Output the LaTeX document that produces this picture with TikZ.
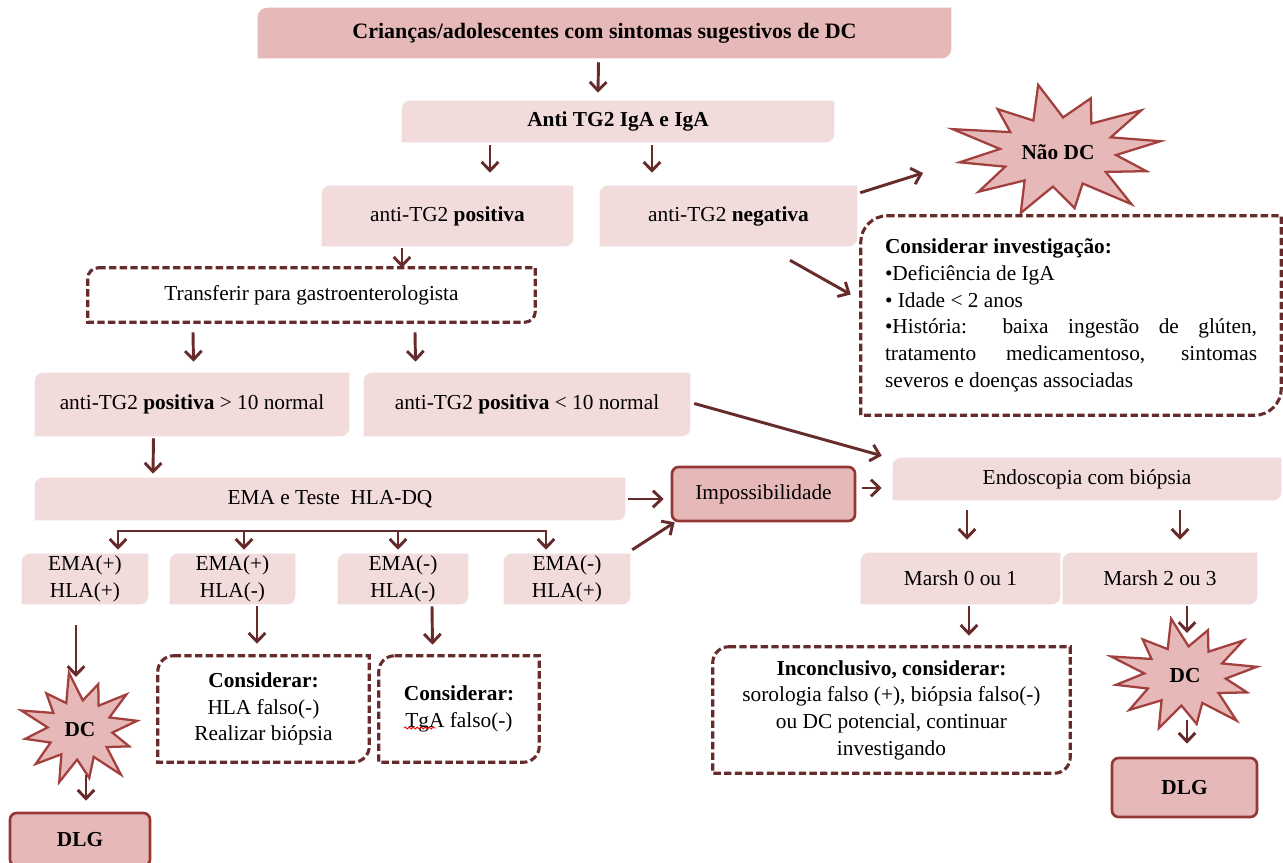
\documentclass[tikz,border=0pt]{standalone}
\usepackage{fontspec}
\setmainfont{Liberation Serif}
\usetikzlibrary{arrows.meta,backgrounds,calc,decorations.pathmorphing}
\definecolor{darkfill}{HTML}{E6B8B7}
\definecolor{lightfill}{HTML}{F2DCDB}
\definecolor{arrcol}{HTML}{672B2B}
\definecolor{starcol}{HTML}{A2403E}
\definecolor{boxcol}{HTML}{953735}
% node from pixel box: name, x1, y1, x2, y2, style, text
\newcommand\bx[7]{\node[nd,#6, minimum width={(#4-#2)*0.75pt}, minimum height={(#5-#3)*0.75pt}] (#1) at ({(#2+#4)/2},{(#3+#5)/2}) {#7};}
% shape with rounded top-left and bottom-right corners
\newcommand\cornerbox[3]{\path[#3] ([xshift=#2]#1.north west) -- (#1.north east) -- ([yshift=#2]#1.south east) arc[start angle=0,end angle=-90,radius=#2] -- (#1.south west) -- ([yshift=-#2]#1.north west) arc[start angle=180,end angle=90,radius=#2] -- cycle;}
% explosion star round a node: name, rx, ry, style
\newcommand\burst[4]{\path[#4] ($(#1)+({#2*cos(10)},{-#3*sin(10)})$) \foreach \k in {1,...,23}{ -- ($(#1)+({(mod(\k,2)==0 ? (1+0.1*sin(\k*77)) : 0.56)*#2*cos(10+\k*15)},{-(mod(\k,2)==0 ? (1+0.1*sin(\k*77)) : 0.56)*#3*sin(10+\k*15)})$)} -- cycle;}
\tikzset{
  nd/.style={inner sep=0pt, align=center, text=black},
  arr/.style={draw=arrcol, line width=2.2pt, -{Straight Barb[length=6.5pt,width=12.5pt]}},
  plain/.style={draw=arrcol, line width=2.2pt},
  dbox/.style={draw=arrcol, line width=2.3pt, dash pattern=on 5.5pt off 2.5pt},
  lightshape/.style={fill=lightfill},
  darkshape/.style={fill=darkfill},
  starshape/.style={fill=darkfill, draw=starcol, line width=1.7pt, line join=miter},
  solidbox/.style={fill=darkfill, draw=boxcol, line width=2pt, rounded corners=5pt},
  wavy/.style={draw=red, line width=0.6pt, decorate, decoration={snake, segment length=3pt, amplitude=0.8pt}},
}
\begin{document}
\begin{tikzpicture}[x=0.75pt, y=-0.75pt, font=\fontsize{16}{20}\selectfont]
\useasboundingbox (0,0) rectangle (1283,863);
% ---------- nodes ----------
\bx{top}{258}{8}{951}{58}{font=\fontsize{16.5}{20}\selectfont\bfseries}{Crianças/adolescentes com sintomas sugestivos de DC}
\bx{anti}{402}{101}{834}{142}{font=\fontsize{16}{20}\selectfont\bfseries}{Anti TG2 IgA e IgA}
\bx{pos}{322}{186}{573}{246}{}{anti-TG2 \textbf{positiva}}
\bx{neg}{600}{186}{857}{246}{}{anti-TG2 \textbf{negativa}}
\node[nd, font=\fontsize{16}{20}\selectfont\bfseries] (nao) at (1058,152) {Não DC};
\bx{inv}{861}{216}{1281}{415}{text width=279pt, align=justify}{\textbf{Considerar investigação:}\\ •Deficiência de IgA\\ • Idade < 2 anos\\ •História: baixa ingestão de glúten,\linebreak tratamento medicamentoso, sintomas\linebreak severos e doenças associadas}
\bx{trans}{88}{268}{535}{322}{}{Transferir para gastroenterologista}
\bx{gt}{35}{373}{349}{436}{}{anti-TG2 \textbf{positiva} > 10 normal}
\bx{lt}{364}{373}{690}{436}{}{anti-TG2 \textbf{positiva} < 10 normal}
\bx{ema}{35}{478}{625}{520}{}{EMA e Teste\ \ HLA-DQ}
\bx{imp}{672}{467}{855}{521}{solidbox}{Impossibilidade}
\bx{endo}{893}{458}{1281}{500}{}{Endoscopia com biópsia}
\bx{e1}{22}{554}{148}{604}{}{EMA(+)\\HLA(+)}
\bx{e2}{170}{554}{295}{604}{}{EMA(+)\\HLA(-)}
\bx{e3}{338}{554}{468}{604}{}{EMA(-)\\HLA(-)}
\bx{e4}{504}{554}{630}{604}{}{EMA(-)\\HLA(+)}
\bx{m01}{861}{553}{1060}{604}{}{Marsh 0 ou 1}
\bx{m23}{1063}{553}{1257}{604}{}{Marsh 2 ou 3}
\bx{hla}{158}{656}{369}{762}{}{\textbf{Considerar:}\\HLA falso(-)\\Realizar biópsia}
\bx{tga}{379}{656}{539}{762}{}{\textbf{Considerar:}\\TgA falso(-)}
\bx{inc}{713}{647}{1070}{773}{}{\textbf{Inconclusivo, considerar:}\\sorologia falso (+), biópsia falso(-)\\ou DC potencial, continuar\\investigando}
\node[nd, font=\fontsize{16}{20}\selectfont\bfseries] (dc1) at (80,730) {DC};
\node[nd, font=\fontsize{16}{20}\selectfont\bfseries] (dc2) at (1185,676) {DC};
\bx{dlg1}{10}{813}{150}{866}{solidbox, font=\fontsize{16}{20}\selectfont\bfseries}{DLG}
\bx{dlg2}{1112}{758}{1257}{817}{solidbox, font=\fontsize{16}{20}\selectfont\bfseries}{DLG}
% ---------- shapes behind the texts ----------
\begin{scope}[on background layer]
  \fill[white] (0,0) rectangle (1283,863);
  \cornerbox{top}{7pt}{darkshape}
  \foreach \n in {anti,pos,neg,gt,lt,ema,endo,e1,e2,e3,e4,m01,m23}{\cornerbox{\n}{6pt}{lightshape}}
  \burst{nao}{104}{62}{starshape}
  \burst{dc1}{58}{53}{starshape}
  \burst{dc2}{73}{53}{starshape}
\end{scope}
% spell-check underline under TgA
\draw[wavy] ($(tga)+(-55,19)$) -- ($(tga)+(-23,19)$);
% ---------- dashed boxes ----------
\cornerbox{inv}{20pt}{dbox}
\cornerbox{trans}{8pt}{dbox}
\cornerbox{hla}{12pt}{dbox}
\cornerbox{tga}{12pt}{dbox}
\cornerbox{inc}{12pt}{dbox}
% ---------- connectors ----------
\draw[arr] ($(top.south)+(-6,4)$) -- ($(anti.north)+(-20,-8)$);
\draw[arr] ($(anti.south)+(-128,3)$) -- ($(pos.north)+(42.5,-13)$);
\draw[arr] ($(anti.south)+(34,3)$) -- ($(neg.north)+(-76.5,-13)$);
\draw[arr] ($(neg.north east)+(3,7)$) -- ($(nao)+(-135,21)$);
\draw[arr] ($(neg.south)+(61.5,14)$) -- ($(inv.west)+(-10,-21)$);
\draw[arr] ($(pos.south)+(-45.5,2)$) -- ($(trans.north)+(90.5,0)$);
\draw[arr] ($(trans.south)+(-118.5,10)$) -- ($(gt.north)+(1.5,-11)$);
\draw[arr] ($(trans.south)+(103.5,10)$) -- ($(lt.north)+(-111.5,-11)$);
\draw[arr] ($(lt.east)+(4,-1)$) -- ($(endo.north west)+(-11,-2)$);
\draw[arr] ($(gt.south)+(-38.5,2)$) -- ($(ema.north)+(-177,-4)$);
\draw[arr] ($(ema.east)+(3,0)$) -- ($(imp.west)+(-7,5)$);
\draw[arr] ($(e4.north east)+(2,-4)$) -- ($(imp.south west)+(4,0)$);
\draw[arr] ($(imp.east)+(6,-6)$) -- ($(endo.west)+(-11,9)$);
\draw[arr] ($(endo.south)+(-120,10)$) -- ($(m01.north)+(6.5,-13)$);
\draw[arr] ($(endo.south)+(93,10)$) -- ($(m23.north)+(20,-13)$);
\draw[arr] ($(m01.south)+(8.5,2)$) -- ($(inc.north)+(77.5,-11)$);
\draw[arr] ($(m23.south)+(27,2)$) -- ($(dc2)+(2,-43)$);
\draw[arr] ($(dc2)+(2,44)$) -- ($(dlg2.north)+(2.5,-13)$);
\draw[arr] ($(e1.south)+(-9,21)$) -- ($(dc1)+(-4,-53)$);
\draw[arr] ($(dc1)+(6,45)$) -- ($(dlg1.north)+(6,-11)$);
\draw[arr] ($(e2.south)+(24.5,2)$) -- ($(hla.north)+(-6.5,-12)$);
\draw[arr] ($(e3.south)+(29,2)$) -- ($(tga.north)+(-26.5,-11)$);
% bracket below EMA e Teste
\coordinate (b1) at (118,531);
\coordinate (b2) at (244,531);
\coordinate (b3) at (398,531);
\coordinate (b4) at (546,531);
\draw[plain, line cap=round] (b1) -- (b4);
\foreach \b/\e in {b1/e1,b2/e2,b3/e3,b4/e4}{\draw[arr] (\b) -- ($(\e.north -| \b)+(0,-4)$);}
\end{tikzpicture}
\end{document}
